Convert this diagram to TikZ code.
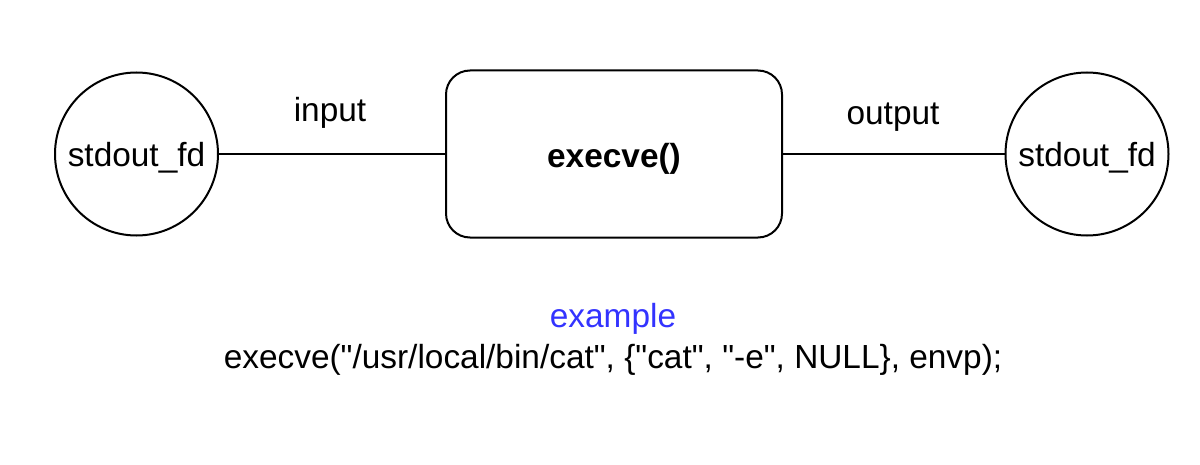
\documentclass[tikz,border=0pt]{standalone}
\usepackage{fontspec}
\setmainfont{Liberation Sans}[Ligatures=TeXOff]
\definecolor{exblue}{RGB}{51,51,255}
\begin{document}
\begin{tikzpicture}[x=0.5pt,y=-0.5pt,
  txt/.style={font=\fontsize{16.7pt}{19pt}\selectfont, inner sep=0pt},
  fdcircle/.style={txt, circle, draw, line width=1pt, minimum size=81.5pt, text height=13pt, text depth=0pt},
  callbox/.style={txt, draw, line width=1pt, rounded corners=12pt, minimum width=168pt, minimum height=83.5pt, text height=13.5pt, text depth=0pt},
  conn/.style={line width=1pt},
  lbl/.style={txt, anchor=base}]
\useasboundingbox (0,0) rectangle (1200,465);
\node[fdcircle] (in) at (136.5,154) {stdout\_fd};
\node[callbox] (call) at (614,154) {\bfseries execve()};
\node[fdcircle] (out) at (1087,154) {stdout\_fd};
\draw[conn] (in) -- (call);
\draw[conn] (call) -- (out);
\node[lbl] (inlbl) at (330,122) {input};
\node[lbl] (outlbl) at (893,125) {output};
\node[lbl, text=exblue] (ex) at (613,327) {example};
\node[lbl] (cmd) at (613,368) {execve("/usr/local/bin/cat", \{"cat", "-e", NULL\}, envp);};
\end{tikzpicture}
\end{document}
